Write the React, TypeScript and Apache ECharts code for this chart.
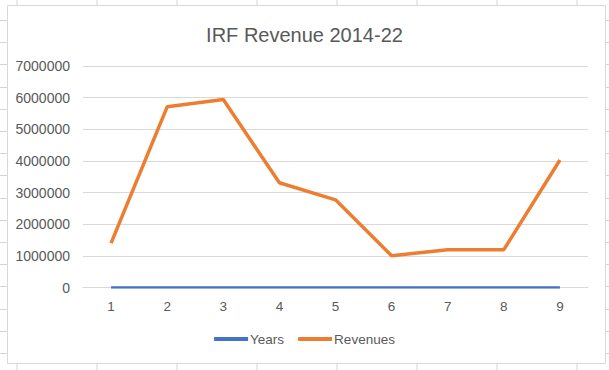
import React, { useEffect, useRef } from "react";
import * as echarts from "echarts";

const categories = ["1", "2", "3", "4", "5", "6", "7", "8", "9"];
const years = [2014, 2015, 2016, 2017, 2018, 2019, 2020, 2021, 2022];
const revenues = [1400000, 5710000, 5940000, 3310000, 2770000, 1005000, 1195000, 1195000, 4030000];
const yTicks = { min: 0, max: 7000000, interval: 1000000 };

const FONT = "'Liberation Sans', Arial, sans-serif";
const TXT = "#595959";

export default function App() {
  const ref = useRef<HTMLDivElement>(null);
  useEffect(() => {
    if (!ref.current) return;
    const chart = echarts.init(ref.current, null, { renderer: "svg" });
    const cellLines: any[] = [];
    const cols = [17, 97, 177, 257, 337, 417, 497, 577];
    cols.forEach((x) => {
      cellLines.push({ type: "line", shape: { x1: x, y1: 0, x2: x, y2: 6 }, style: { stroke: "#d4d4d4", lineWidth: 1 }, z: 0 });
      cellLines.push({ type: "line", shape: { x1: x, y1: 364, x2: x, y2: 370 }, style: { stroke: "#d4d4d4", lineWidth: 1 }, z: 0 });
    });
    for (let y = 20; y < 370; y += 22.2) {
      cellLines.push({ type: "line", shape: { x1: 0, y1: Math.round(y) + 0.5, x2: 7, y2: Math.round(y) + 0.5 }, style: { stroke: "#d4d4d4", lineWidth: 1 }, z: 0 });
      cellLines.push({ type: "line", shape: { x1: 606, y1: Math.round(y) + 0.5, x2: 609, y2: Math.round(y) + 0.5 }, style: { stroke: "#d4d4d4", lineWidth: 1 }, z: 0 });
    }
    chart.setOption({
      animation: false,
      backgroundColor: "#ffffff",
      graphic: [
        ...cellLines,
        {
          type: "rect",
          shape: { x: 7.5, y: 5.5, width: 598, height: 358 },
          style: { fill: "#ffffff", stroke: "#d9d9d9", lineWidth: 1 },
          z: 0,
          silent: true,
        },
      ],
      title: {
        text: "IRF Revenue 2014-22",
        left: "center",
        top: 20,
        textStyle: { fontFamily: FONT, fontSize: 20, fontWeight: "normal", color: TXT },
      },
      grid: { left: 83, right: 21, top: 66, bottom: 82.5, containLabel: false },
      legend: {
        data: ["Years", "Revenues"],
        bottom: 19,
        left: "center",
        icon: "rect",
        itemWidth: 34,
        itemHeight: 4,
        itemGap: 14,
        textStyle: { fontFamily: FONT, fontSize: 13.5, color: TXT, padding: [0, 0, 0, -3] },
      },
      xAxis: {
        type: "category",
        data: categories,
        boundaryGap: true,
        axisLine: { show: true, lineStyle: { color: "#d9d9d9" } },
        axisTick: { show: false },
        axisLabel: { fontFamily: FONT, fontSize: 13.5, color: TXT, margin: 12 },
      },
      yAxis: {
        type: "value",
        min: yTicks.min,
        max: yTicks.max,
        interval: yTicks.interval,
        axisLine: { show: false },
        axisTick: { show: false },
        splitLine: { lineStyle: { color: "#d9d9d9", width: 1 } },
        axisLabel: { fontFamily: FONT, fontSize: 14, color: TXT, margin: 13, formatter: (v: number) => String(v) },
      },
      series: [
        {
          name: "Years",
          type: "line",
          data: years,
          symbol: "none",
          lineStyle: { color: "#4472C4", width: 2.5 },
          itemStyle: { color: "#4472C4" },
        },
        {
          name: "Revenues",
          type: "line",
          data: revenues,
          symbol: "none",
          lineStyle: { color: "#ED7D31", width: 3.5 },
          itemStyle: { color: "#ED7D31" },
        },
      ],
    });
    return () => chart.dispose();
  }, []);
  return <div ref={ref} style={{ position: "absolute", left: 0, top: 0, width: 609, height: 370 }} />;
}
